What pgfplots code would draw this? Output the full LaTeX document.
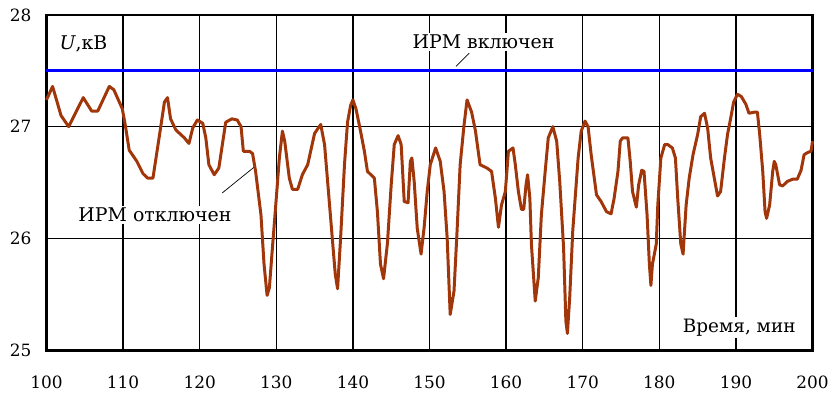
\documentclass[border=0pt]{standalone}
\usepackage{pgfplots}
\pgfplotsset{compat=1.18}
\usepackage{fontspec}
\setmainfont{DejaVu Serif}
\definecolor{brn}{RGB}{160,54,10}
\begin{document}
\begin{tikzpicture}
\begin{axis}[
  scale only axis, width=770pt, height=337pt,
  xmin=100, xmax=200, ymin=25, ymax=28,
  xtick={100,110,...,200}, ytick={25,26,27,28},
  grid=major, major grid style={black, line width=1.5pt},
  axis line style={black, line width=2.8pt},
  major tick length=0pt,
  /pgf/number format/assume math mode=true,
  tick label style={font=\fontsize{17}{17}\selectfont},
  xticklabel style={anchor=base, yshift=-38pt},
  yticklabel style={anchor=east, inner sep=0pt, xshift=-15pt},
  clip=false,
]
\addplot[blue, line width=3pt] coordinates {(100,27.5) (200,27.5)};
\addplot[brn, line width=3pt, line join=round] coordinates {
(100.0,27.24) (100.8,27.36) (101.9,27.10) (102.9,27.00) (104.8,27.26) (105.9,27.14) (106.7,27.14) (108.2,27.36) (108.8,27.33) (109.9,27.16) (110.3,27.01) (110.8,26.79) (111.8,26.69) (112.6,26.58) (113.2,26.54) (113.9,26.54) (114.7,26.90) (115.4,27.22) (115.8,27.26) (116.2,27.07) (116.9,26.97) (118.0,26.90) (118.6,26.85) (119.1,26.99) (119.7,27.06) (120.4,27.03) (120.8,26.90) (121.2,26.66) (121.9,26.57) (122.5,26.63) (123.4,27.04) (124.2,27.07) (124.9,27.06) (125.4,27.00) (125.7,26.78) (126.5,26.78) (126.9,26.76) (127.3,26.60) (128.0,26.21) (128.4,25.77) (128.8,25.49) (129.1,25.56) (129.5,25.92) (130.0,26.36) (130.4,26.72) (130.8,26.96) (131.1,26.87) (131.7,26.54) (132.1,26.44) (132.8,26.44) (133.4,26.57) (134.1,26.66) (135.0,26.94) (135.8,27.02) (136.3,26.84) (136.7,26.51) (137.3,26.01) (137.7,25.68) (138.0,25.55) (138.4,26.01) (138.9,26.66) (139.3,27.04) (139.7,27.19) (140.0,27.24) (140.4,27.16) (141.0,26.96) (141.5,26.78) (141.9,26.60) (142.8,26.54) (143.2,26.24) (143.6,25.77) (144.0,25.64) (144.5,25.95) (145.0,26.48) (145.4,26.84) (145.9,26.92) (146.3,26.84) (146.7,26.33) (147.2,26.32) (147.5,26.69) (147.7,26.72) (148.0,26.51) (148.4,26.09) (148.9,25.86) (149.3,26.10) (149.7,26.42) (150.1,26.66) (150.8,26.81) (151.4,26.69) (151.9,26.42) (152.3,26.01) (152.7,25.32) (153.2,25.53) (153.6,26.07) (154.0,26.66) (154.5,27.01) (154.9,27.24) (155.5,27.13) (156.0,26.96) (156.6,26.66) (157.5,26.63) (158.1,26.60) (158.6,26.36) (159.0,26.10) (159.4,26.30) (159.9,26.42) (160.3,26.78) (160.9,26.81) (161.2,26.66) (161.6,26.42) (162.0,26.26) (162.3,26.26) (162.6,26.48) (162.8,26.57) (163.1,26.36) (163.3,25.95) (163.8,25.44) (164.2,25.65) (164.6,26.21) (165.1,26.60) (165.5,26.90) (166.1,27.00) (166.6,26.87) (167.0,26.51) (167.5,25.92) (167.8,25.26) (168.0,25.15) (168.3,25.47) (168.7,26.07) (169.4,26.72) (169.8,26.96) (170.3,27.05) (170.7,27.00) (171.1,26.75) (171.8,26.39) (172.4,26.33) (173.1,26.24) (173.7,26.22) (174.1,26.36) (174.6,26.60) (174.9,26.87) (175.2,26.90) (175.9,26.90) (176.2,26.69) (176.5,26.42) (177.0,26.28) (177.3,26.48) (177.7,26.61) (178.0,26.60) (178.4,26.21) (178.7,25.77) (178.9,25.58) (179.1,25.77) (179.6,25.95) (179.8,26.30) (180.2,26.72) (180.7,26.84) (181.1,26.84) (181.7,26.81) (182.1,26.72) (182.4,26.36) (182.8,25.95) (183.1,25.86) (183.5,26.30) (183.9,26.54) (184.4,26.75) (185.0,26.93) (185.4,27.09) (185.9,27.12) (186.3,26.99) (186.7,26.72) (187.2,26.53) (187.6,26.38) (188.0,26.42) (188.5,26.72) (188.9,26.93) (189.3,27.07) (189.7,27.22) (190.2,27.29) (190.7,27.27) (191.3,27.20) (191.7,27.12) (192.4,27.13) (192.8,27.13) (193.1,26.93) (193.5,26.60) (193.8,26.24) (194.0,26.18) (194.4,26.30) (194.8,26.60) (195.0,26.69) (195.2,26.66) (195.7,26.48) (196.1,26.47) (196.7,26.51) (197.4,26.53) (198.0,26.53) (198.5,26.61) (198.9,26.75) (199.4,26.77) (199.8,26.78) (200.0,26.87)
};
\node[font=\fontsize{19}{19}\selectfont, inner sep=1pt] at (axis cs:104.84,27.742) {\textit{U},кВ};
\node[font=\fontsize{19}{19}\selectfont, fill=white, inner sep=2pt] at (axis cs:157.05,27.762) {ИРМ включен};
\draw[black, line width=0.7pt] (axis cs:153.45,27.540) -- (axis cs:155.19,27.659);
\node[font=\fontsize{19}{19}\selectfont, fill=white, inner sep=2pt] at (axis cs:114.16,26.211) {ИРМ отключен};
\draw[black, line width=0.7pt] (axis cs:122.94,26.407) -- (axis cs:127.05,26.635);
\node[font=\fontsize{18.5}{18.5}\selectfont, fill=white, inner sep=2pt] at (axis cs:190.43,25.205) {Время, мин};
\end{axis}
\path[use as bounding box] ([shift={(-46.7pt,-47pt)}]current axis.south west) rectangle ([shift={(15.3pt,15pt)}]current axis.north east);
\end{tikzpicture}
\end{document}
